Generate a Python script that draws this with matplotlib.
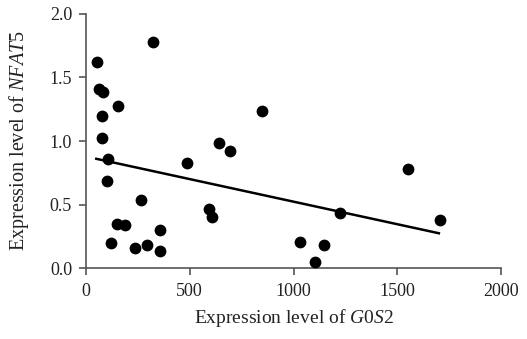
import matplotlib
matplotlib.use("Agg")
import matplotlib.pyplot as plt
import numpy as np

plt.rcParams['font.family'] = ['Liberation Serif', 'DejaVu Serif']
plt.rcParams['mathtext.fontset'] = 'custom'
plt.rcParams['mathtext.rm'] = 'Liberation Serif'
plt.rcParams['mathtext.it'] = 'Liberation Serif:italic'

g0s2 = [321, 55, 61, 80, 153, 77, 77, 108, 850, 643, 694, 485,
        104, 265, 151, 188, 357, 120, 235, 292, 357, 591, 605,
        1550, 1226, 1703, 1033, 1145, 1105]
nfat5 = [1.78, 1.62, 1.41, 1.386, 1.276, 1.197, 1.026, 0.861, 1.239, 0.987, 0.924, 0.824,
         0.685, 0.535, 0.349, 0.336, 0.299, 0.197, 0.160, 0.184, 0.131, 0.465, 0.404,
         0.782, 0.431, 0.378, 0.205, 0.179, 0.050]
trend_x = [50, 1700]
trend_slope = -0.000355
trend_intercept = 0.878

x_ticks = [0, 500, 1000, 1500, 2000]
y_ticks = [0.0, 0.5, 1.0, 1.5, 2.0]

fig = plt.figure(figsize=(5.27, 3.39), dpi=100)
ax = fig.add_axes([0.163, 0.209, 0.788, 0.75])

ax.scatter(g0s2, nfat5, s=72, color='black', zorder=3, linewidths=0)
tx = np.array(trend_x)
ax.plot(tx, trend_intercept + trend_slope * tx, color='black', lw=1.8, zorder=2)

ax.set_xlim(0, 2000)
ax.set_ylim(0, 2.0)
ax.set_xticks(x_ticks)
ax.set_yticks(y_ticks)
ax.set_yticklabels([f"{v:.1f}" for v in y_ticks])
for s in ['top', 'right']:
    ax.spines[s].set_visible(False)
for s in ['left', 'bottom']:
    ax.spines[s].set_color('#555555')
    ax.spines[s].set_linewidth(1.2)
ax.tick_params(direction='out', length=5, width=1.2, color='#555555', labelsize=13, labelcolor='#222222')
ax.tick_params(axis='y', pad=5)
ax.tick_params(axis='x', pad=6)
ax.set_xlabel(r"Expression level of $\mathit{G0S2}$", fontsize=14, color='#222222', labelpad=5)
ax.set_ylabel(r"Expression level of $\mathit{NFAT5}$", fontsize=14.5, color='#222222', labelpad=13)

fig.savefig("out.png", dpi=100)
